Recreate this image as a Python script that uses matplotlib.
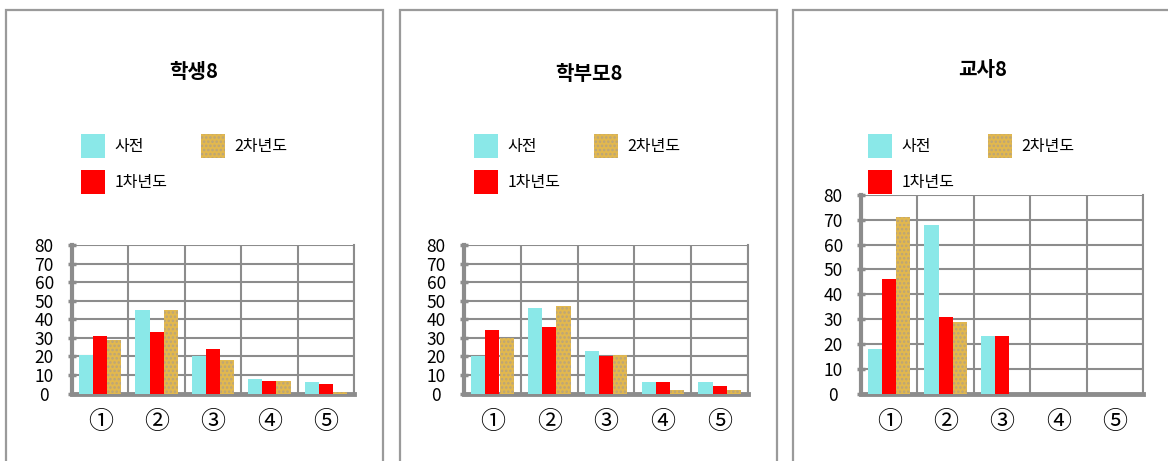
import numpy as np
import matplotlib
matplotlib.use("Agg")
from matplotlib import pyplot as plt
from matplotlib.patches import Rectangle

plt.rcParams['font.family'] = ['Noto Sans CJK KR', 'DejaVu Sans']
plt.rcParams['hatch.linewidth'] = 1.2

W, H = 1168, 461

categories = ['①', '②', '③', '④', '⑤']
series_names = ['사전', '1차년도', '2차년도']
titles = ['학생8', '학부모8', '교사8']

# values, one list per series and panel
student_pre = [21, 45, 20, 8, 6]
student_y1 = [31, 33, 24, 7, 5]
student_y2 = [29, 45, 18, 7, 1]

parent_pre = [20, 46, 23, 6, 6]
parent_y1 = [34, 36, 20, 6, 4]
parent_y2 = [30, 47, 21, 2, 2]

teacher_pre = [18, 68, 23, 0, 0]
teacher_y1 = [46, 31, 23, 0, 0]
teacher_y2 = [71, 29, 0, 0, 0]

panels = [
    (student_pre, student_y1, student_y2),
    (parent_pre, parent_y1, parent_y2),
    (teacher_pre, teacher_y1, teacher_y2),
]

# layout in pixels (from top-left)
borders = [(6, 10, 383), (400, 10, 777), (793, 10, 1175)]
plot_boxes = [(72, 245, 354, 393.5), (464, 245, 748, 393.5), (861, 195, 1143, 393.5)]
title_pos = [(194, 72), (589, 74), (983, 70)]
legend_pos = [(81, 134), (474, 134), (868, 134)]

GRID = '#8c8c8c'
colors = ['#8ae8e8', '#ff0000', '#e2b84e']


def fx(x):
    return x / W


def fy(y):
    return 1 - y / H


fig = plt.figure(figsize=(W / 100, H / 100), dpi=100)

for b in borders:
    fig.add_artist(Rectangle((fx(b[0]), fy(H + 20)), fx(b[2] - b[0]), (H + 10) / H,
                             transform=fig.transFigure, fill=False,
                             edgecolor='#9a9a9a', linewidth=1.6))

x = np.arange(len(categories))
w = 0.25

for i, (pre, y1, y2) in enumerate(panels):
    l, t, r, btm = plot_boxes[i]
    ax = fig.add_axes([fx(l), fy(btm), fx(r - l), (btm - t) / H])
    bars = []
    bars.append(ax.bar(x - w, pre, w, color=colors[0], linewidth=0, zorder=3, label=series_names[0]))
    bars.append(ax.bar(x, y1, w, color=colors[1], linewidth=0, zorder=3, label=series_names[1]))
    bars.append(ax.bar(x + w, y2, w, color=colors[2], edgecolor='#b9a47c', hatch='....',
                       linewidth=0, zorder=3, label=series_names[2]))
    ax.set_xlim(-0.5, 4.5)
    ax.set_ylim(0, 80)
    ax.set_yticks(np.arange(0, 81, 10))
    ax.set_xticks(x)
    ax.set_xticklabels(categories, fontsize=18)
    ax.set_xticks(np.arange(-0.5, 5, 1), minor=True)
    ax.grid(True, which='major', axis='y', color=GRID, linewidth=1.5, zorder=1)
    ax.grid(True, which='minor', axis='x', color=GRID, linewidth=1.5, zorder=1)
    ax.tick_params(axis='x', which='both', length=0, pad=11)
    ax.tick_params(axis='y', direction='inout', length=6, width=2.5, color=GRID, labelsize=12.5)
    for lab in ax.get_yticklabels():
        lab.set_horizontalalignment('center')
    ax.tick_params(axis='y', pad=17)
    ax.spines['top'].set_visible(False)
    ax.spines['right'].set_color(GRID)
    ax.spines['right'].set_linewidth(1.5)
    ax.spines['left'].set_color(GRID)
    ax.spines['left'].set_linewidth(3)
    ax.spines['bottom'].set_color(GRID)
    ax.spines['bottom'].set_linewidth(3.5)
    ax.set_axisbelow(True)

    fig.text(fx(title_pos[i][0]), fy(title_pos[i][1]), titles[i], ha='center', va='center',
             fontsize=14.5, fontweight='bold')

    lx, ly = legend_pos[i]
    fig.legend([bars[0], bars[1], bars[2]], series_names, ncol=2, frameon=False,
               loc='upper left', bbox_to_anchor=(fx(lx), fy(ly)), borderpad=0, borderaxespad=0,
               fontsize=11.5, handlelength=1.5, handleheight=1.93, handletextpad=0.6,
               labelspacing=0.75, columnspacing=2.1)

fig.savefig('out.png', dpi=100)
